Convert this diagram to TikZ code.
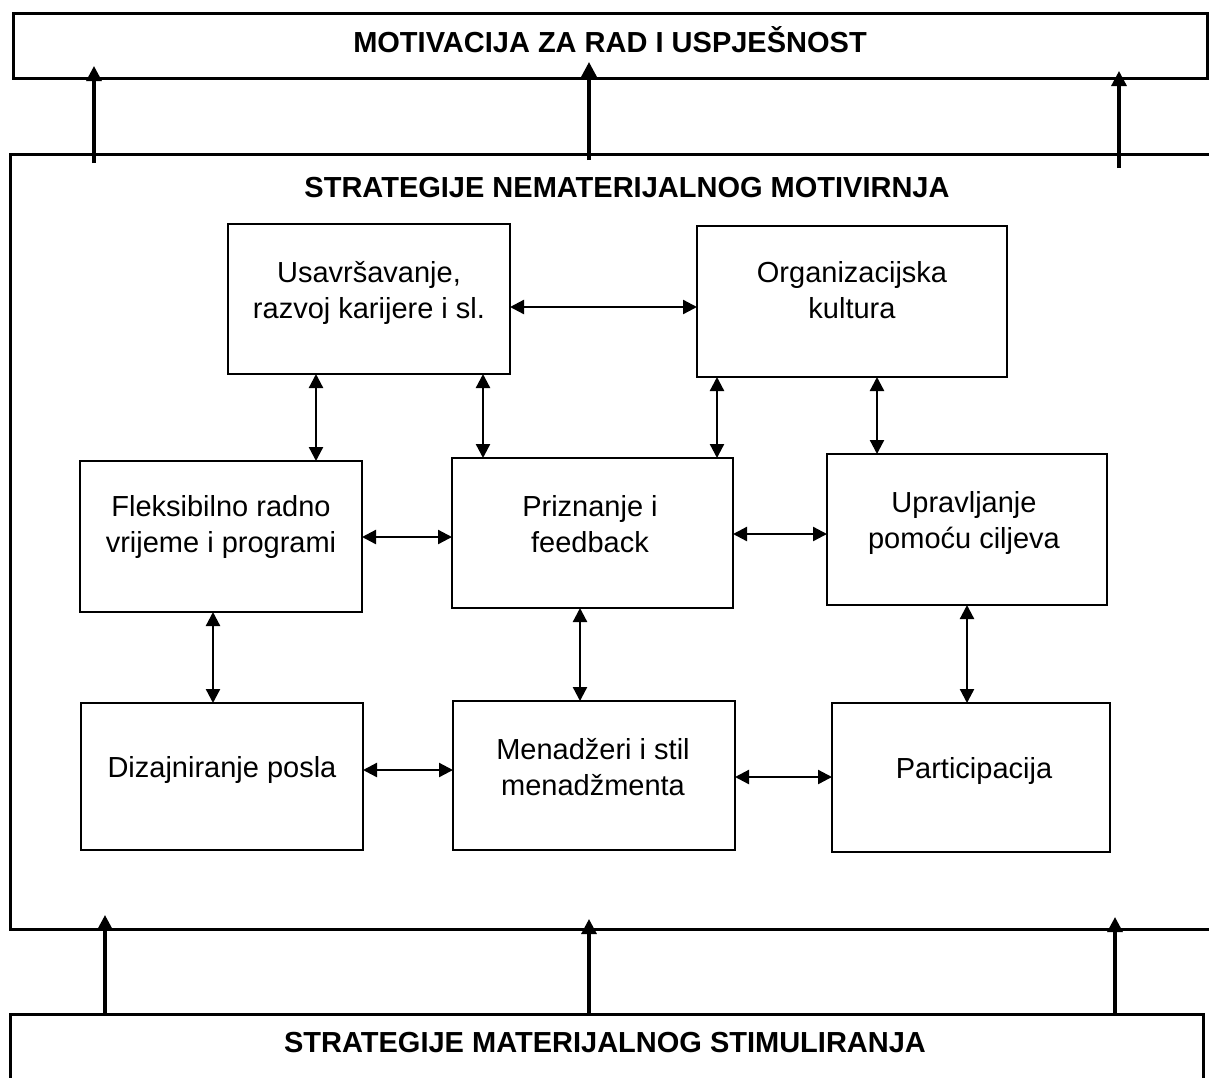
\documentclass[tikz,border=0pt]{standalone}
\usepackage{fontspec}
\setmainfont{Liberation Sans}
\usetikzlibrary{arrows.meta,calc}
\begin{document}
\begin{tikzpicture}[x=1pt,y=-1pt,
  outerbox/.style={draw,line width=3pt,inner sep=0pt,outer sep=0pt},
  innerbox/.style={draw,line width=2.5pt,inner sep=0pt,outer sep=0pt},
  titletext/.style={font=\fontsize{29}{35}\selectfont\bfseries,anchor=base,inner sep=0pt},
  lbl/.style={font=\fontsize{29}{36}\selectfont,align=center,anchor=base,inner sep=0pt},
  uparrow/.style={line width=3.2pt,-{Triangle[length=15pt,width=15pt]}},
  biarrow/.style={line width=2.3pt,{Triangle[length=14pt,width=14pt]}-{Triangle[length=14pt,width=14pt]}},
]
\path[use as bounding box,fill=white] (0,0) rectangle (1209,1077);
\clip (0,0) rectangle (1209,1077);

% outer boxes
\node[outerbox,minimum width=1194pt,minimum height=65pt] (motiv) at (610,45.5) {};
\node[titletext] (motivt) at (610,52) {MOTIVACIJA ZA RAD I USPJEŠNOST};

\node[outerbox,minimum width=1220pt,minimum height=775pt] (big) at (620,541.5) {};
\node[titletext] (bigt) at (627,197) {STRATEGIJE NEMATERIJALNOG MOTIVIRNJA};

\node[outerbox,minimum width=1193pt,minimum height=90pt] (stim) at (606.5,1059) {};
\node[titletext] (stimt) at (605,1052) {STRATEGIJE MATERIJALNOG STIMULIRANJA};

% inner boxes
\node[innerbox,minimum width=282pt,minimum height=150pt] (usav) at (369,299) {};
\node[innerbox,minimum width=310pt,minimum height=151pt] (org) at (852,301.5) {};
\node[innerbox,minimum width=282pt,minimum height=151pt] (flex) at (221,536.5) {};
\node[innerbox,minimum width=281pt,minimum height=150pt] (priz) at (592.5,533) {};
\node[innerbox,minimum width=280pt,minimum height=151pt] (uprav) at (967,529.5) {};
\node[innerbox,minimum width=282pt,minimum height=147pt] (diz) at (222,776.5) {};
\node[innerbox,minimum width=282pt,minimum height=149pt] (menad) at (594,775.5) {};
\node[innerbox,minimum width=278pt,minimum height=149pt] (partic) at (971,777.5) {};

% labels (base anchor = baseline of last line)
\node[lbl] (usavt) at (369,318) {Usavršavanje,\\razvoj karijere i sl.};
\node[lbl] (orgt) at (852,318) {Organizacijska\\kultura};
\node[lbl] (flext) at (221,552) {Fleksibilno radno\\vrijeme i programi};
\node[lbl] (prizt) at (590,552) {Priznanje i\\feedback};
\node[lbl] (upravt) at (964,548) {Upravljanje\\pomoću ciljeva};
\node[lbl] (dizt) at (222,777) {Dizajniranje posla};
\node[lbl] (menadt) at (593,795) {Menadžeri i stil\\menadžmenta};
\node[lbl] (partict) at (974,778) {Participacija};

% inner connectors
\draw[biarrow] (usav.east |- 0,307) -- (org.west |- 0,307);
\draw[biarrow] (usav.south -| 316,0) -- (flex.north -| 316,0);
\draw[biarrow] (usav.south -| 483,0) -- (priz.north -| 483,0);
\draw[biarrow] (org.south -| 717,0) -- (priz.north -| 717,0);
\draw[biarrow] (org.south -| 877,0) -- (uprav.north -| 877,0);
\draw[biarrow] (flex.east |- 0,537) -- (priz.west |- 0,537);
\draw[biarrow] (priz.east |- 0,534) -- (uprav.west |- 0,534);
\draw[biarrow] (flex.south -| 213,0) -- (diz.north -| 213,0);
\draw[biarrow] (priz.south -| 580,0) -- (menad.north -| 580,0);
\draw[biarrow] (uprav.south -| 967,0) -- (partic.north -| 967,0);
\draw[biarrow] (diz.east |- 0,770) -- (menad.west |- 0,770);
\draw[biarrow] (menad.east |- 0,777) -- (partic.west |- 0,777);

% outer connectors
\draw[uparrow] ($(big.north -| 94,0)+(0,9)$) -- ($(motiv.south -| 94,0)+(0,-12)$);
\draw[uparrow] ($(big.north -| 589,0)+(0,6)$) -- ($(motiv.south -| 589,0)+(0,-16)$);
\draw[uparrow] ($(big.north -| 1119,0)+(0,14)$) -- ($(motiv.south -| 1119,0)+(0,-7)$);
\draw[uparrow] (stim.north -| 105,0) -- ($(big.south -| 105,0)+(0,-14)$);
\draw[uparrow] (stim.north -| 589,0) -- ($(big.south -| 589,0)+(0,-10)$);
\draw[uparrow] (stim.north -| 1115,0) -- ($(big.south -| 1115,0)+(0,-12)$);
\end{tikzpicture}
\end{document}
